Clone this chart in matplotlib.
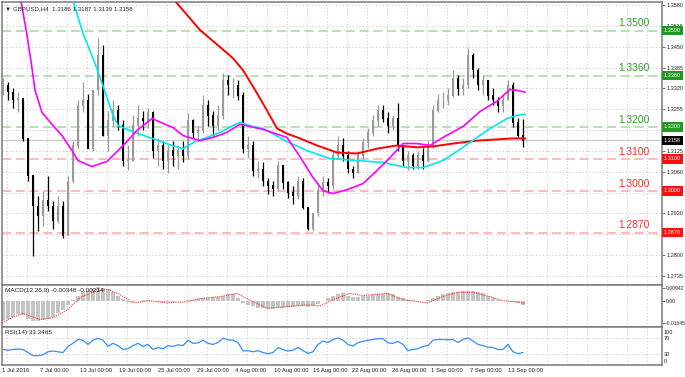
import matplotlib
matplotlib.use("Agg")
import matplotlib.pyplot as plt

# ---------------- data ----------------
symbol_text = "\u25bc GBPUSD,H4  1.3186 1.3187 1.3139 1.3158"
macd_text = "MACD(12,26,9) -0.00348 -0.00214"
rsi_text = "RSI(14) 33.3465"

highs = [1.3351, 1.3339, 1.3320, 1.3308, 1.3283, 1.3164, 1.3048, 1.2985, 1.3001, 1.3048,
         1.2970, 1.2985, 1.2970, 1.3048, 1.3157, 1.3283, 1.3339, 1.3302, 1.3314, 1.3477,
         1.3455, 1.3251, 1.3283, 1.3267, 1.3220, 1.3142, 1.3236, 1.3267, 1.3251, 1.3258,
         1.3251, 1.3164, 1.3157, 1.3142, 1.3157, 1.3142, 1.3157, 1.3242, 1.3226, 1.3204,
         1.3298, 1.3283, 1.3251, 1.3267, 1.3367, 1.3361, 1.3352, 1.3345, 1.3308, 1.3173,
         1.3157, 1.3095, 1.3089, 1.3039, 1.3032, 1.3095, 1.3079, 1.3032, 1.3017, 1.3048,
         1.3039, 1.2948, 1.2932, 1.3026, 1.3048, 1.3039, 1.3126, 1.3173, 1.3164, 1.3126,
         1.3079, 1.3126, 1.3164, 1.3195, 1.3236, 1.3267, 1.3267, 1.3245, 1.3236, 1.3274,
         1.3142, 1.3126, 1.3120, 1.3126, 1.3133, 1.3157, 1.3267, 1.3304, 1.3308, 1.3320,
         1.3377, 1.3361, 1.3352, 1.3445, 1.3430, 1.3383, 1.3361, 1.3345, 1.3320, 1.3292,
         1.3298, 1.3345, 1.3339, 1.3229, 1.3226]
lows = [1.3298, 1.3283, 1.3258, 1.3245, 1.3157, 1.3032, 1.2798, 1.2876, 1.2891, 1.2938,
        1.2882, 1.2901, 1.2854, 1.2876, 1.3026, 1.3133, 1.3245, 1.3133, 1.3126, 1.3298,
        1.3173, 1.3126, 1.3204, 1.3189, 1.3079, 1.3064, 1.3095, 1.3173, 1.3189, 1.3195,
        1.3104, 1.3079, 1.3069, 1.3057, 1.3079, 1.3069, 1.3089, 1.3101, 1.3164, 1.3157,
        1.3182, 1.3204, 1.3173, 1.3189, 1.3226, 1.3298, 1.3289, 1.3283, 1.3117, 1.3104,
        1.3048, 1.3042, 1.3017, 1.2992, 1.2985, 1.3001, 1.3007, 1.2979, 1.2960, 1.2976,
        1.2945, 1.2879, 1.2876, 1.2923, 1.2985, 1.2995, 1.3007, 1.3101, 1.3095, 1.3057,
        1.3039, 1.3057, 1.3101, 1.3133, 1.3173, 1.3204, 1.3214, 1.3182, 1.3189, 1.3126,
        1.3079, 1.3064, 1.3069, 1.3069, 1.3069, 1.3089, 1.3133, 1.3245, 1.3258, 1.3267,
        1.3292, 1.3298, 1.3298, 1.3320, 1.3352, 1.3314, 1.3298, 1.3283, 1.3267, 1.3245,
        1.3245, 1.3283, 1.3198, 1.3167, 1.3136]
closes = [1.3330, 1.3308, 1.3283, 1.3289, 1.3164, 1.3048, 1.2954, 1.2923, 1.2970, 1.2954,
          1.2907, 1.2954, 1.2860, 1.3032, 1.3142, 1.3267, 1.3283, 1.3133, 1.3314, 1.3423,
          1.3173, 1.3220, 1.3251, 1.3204, 1.3095, 1.3095, 1.3204, 1.3226, 1.3220, 1.3245,
          1.3126, 1.3142, 1.3095, 1.3126, 1.3111, 1.3126, 1.3111, 1.3220, 1.3182, 1.3189,
          1.3267, 1.3236, 1.3204, 1.3236, 1.3345, 1.3330, 1.3330, 1.3298, 1.3133, 1.3142,
          1.3064, 1.3069, 1.3032, 1.3017, 1.3007, 1.3079, 1.3026, 1.2995, 1.2985, 1.3032,
          1.2948, 1.2882, 1.2932, 1.3001, 1.3026, 1.3017, 1.3111, 1.3142, 1.3111, 1.3069,
          1.3057, 1.3111, 1.3151, 1.3182, 1.3220, 1.3251, 1.3226, 1.3204, 1.3226, 1.3142,
          1.3095, 1.3111, 1.3079, 1.3111, 1.3095, 1.3142, 1.3251, 1.3283, 1.3283, 1.3298,
          1.3352, 1.3320, 1.3330, 1.3423, 1.3377, 1.3330, 1.3345, 1.3298, 1.3283, 1.3267,
          1.3283, 1.3330, 1.3214, 1.3173, 1.3158]
first_open = 1.3320

ma_fast_idx = [3.4, 4.8, 5.8, 6.4, 7.8, 10.0, 11.8, 13.8, 15.0, 17.8, 19.4, 20.8, 22.4, 24.4,
               26.8, 29.8, 32.0, 34.0, 36.0, 39.4, 42.0, 44.8, 47.4, 52.0, 56.8, 59.4, 62.0,
               64.0, 66.0, 68.8, 72.0, 74.8, 77.4, 80.0, 82.8, 85.4, 88.0, 92.0, 95.4, 98.8,
               101.4, 102.8, 104.4]
ma_fast = [1.3611, 1.3486, 1.3383, 1.3314, 1.3245, 1.3204, 1.3173, 1.3126, 1.3095, 1.3076,
           1.3085, 1.3092, 1.3117, 1.3148, 1.3189, 1.3226, 1.3211, 1.3198, 1.3173, 1.3157,
           1.3167, 1.3183, 1.3208, 1.3192, 1.3167, 1.3107, 1.3042, 1.3001, 1.2992, 1.3004,
           1.3023, 1.3064, 1.3104, 1.3148, 1.3148, 1.3142, 1.3167, 1.3201, 1.3248, 1.3280,
           1.3317, 1.3314, 1.3308]

ma_mid_idx = [13.6, 16.0, 18.4, 20.8, 21.8, 23.0, 24.4, 27.0, 30.4, 33.8, 36.0, 38.4, 40.8,
              43.4, 46.0, 47.4, 50.0, 52.0, 56.8, 60.8, 65.4, 70.8, 76.0, 80.8, 84.0, 88.0,
              92.0, 96.8, 100.8, 102.8, 104.4]
ma_mid = [1.3614, 1.3492, 1.3398, 1.3292, 1.3245, 1.3204, 1.3195, 1.3179, 1.3161, 1.3142,
          1.3132, 1.3154, 1.3167, 1.3183, 1.3204, 1.3214, 1.3201, 1.3195, 1.3154, 1.3126,
          1.3101, 1.3095, 1.3089, 1.3073, 1.3073, 1.3095, 1.3136, 1.3189, 1.3226, 1.3236,
          1.3239]

ma_slow_idx = [33.4, 39.4, 43.4, 46.0, 48.0, 50.8, 52.8, 54.8, 56.8, 59.4, 62.8, 66.8, 70.8,
               74.8, 78.8, 82.8, 86.0, 90.0, 94.8, 98.8, 102.0, 104.4]
ma_slow = [1.3611, 1.3502, 1.3449, 1.3414, 1.3377, 1.3305, 1.3251, 1.3195, 1.3179, 1.3164,
           1.3142, 1.3120, 1.3117, 1.3132, 1.3142, 1.3136, 1.3139, 1.3148, 1.3157, 1.3161,
           1.3164, 1.3164]

green_levels = [1.3500, 1.3360, 1.3200]
red_levels = [1.3100, 1.3000, 1.2870]
last_price = 1.3158
price_ticks = [1.3580, 1.3515, 1.3450, 1.3385, 1.3320, 1.3255, 1.3125, 1.3060, 1.2930, 1.2800, 1.2735]
grid_prices = [1.3580, 1.3515, 1.3450, 1.3385, 1.3320, 1.3255, 1.3190, 1.3125, 1.3060, 1.2995,
               1.2930, 1.2865, 1.2800, 1.2735]

macd_hist = [-0.0141, -0.0133, -0.0118, -0.0102, -0.0110, -0.0133, -0.0149, -0.0149, -0.0141, -0.0133,
             -0.0118, -0.0094, -0.0071, -0.0031, 0.0008, 0.0039, 0.0063, 0.0071, 0.0086, 0.0102,
             0.0098, 0.0086, 0.0063, 0.0039, 0.0016, -0.0008, -0.0008, -0.0004, 0.0002, 0.0004,
             -0.0004, -0.0008, -0.0008, -0.0008, -0.0008, -0.0004, -0.0001, 0.0008, 0.0008, 0.0016,
             0.0024, 0.0024, 0.0027, 0.0031, 0.0039, 0.0047, 0.0047, 0.0024, -0.0016, -0.0031,
             -0.0039, -0.0051, -0.0055, -0.0059, -0.0063, -0.0055, -0.0051, -0.0047, -0.0043, -0.0039,
             -0.0039, -0.0043, -0.0039, -0.0024, 0.0000, 0.0024, 0.0039, 0.0051, 0.0055, 0.0039,
             0.0031, 0.0031, 0.0035, 0.0039, 0.0043, 0.0047, 0.0051, 0.0055, 0.0047, 0.0031,
             0.0020, 0.0008, 0.0004, -0.0002, -0.0002, 0.0008, 0.0024, 0.0035, 0.0047, 0.0059,
             0.0063, 0.0067, 0.0071, 0.0075, 0.0071, 0.0067, 0.0055, 0.0039, 0.0024, 0.0008,
             -0.0002, -0.0002, -0.0012, -0.0020, -0.0035]
signal_idx = [-0.6, 1.4, 4.0, 7.4, 10.0, 12.8, 15.4, 18.0, 20.8, 23.4, 26.0, 29.4, 32.8, 36.8,
              39.4, 43.4, 46.8, 50.0, 52.8, 56.0, 60.8, 63.4, 66.0, 69.4, 72.0, 76.8, 80.0, 84.8,
              88.0, 90.8, 94.0, 97.4, 100.0, 102.8, 104.4]
signal = [-0.0173, -0.0133, -0.0094, -0.0141, -0.0126, -0.0071, 0.0024, 0.0063, 0.0086, 0.0047,
          -0.0016, 0.0000, -0.0016, -0.0008, 0.0016, 0.0031, 0.0055, -0.0008, -0.0055, -0.0047,
          -0.0031, -0.0039, 0.0008, 0.0055, 0.0039, 0.0055, 0.0008, -0.0016, 0.0031, 0.0063,
          0.0063, 0.0031, 0.0000, -0.0008, -0.0021]
macd_ticks = [0.00942, 0.0, -0.01645]
macd_tick_labels = ["0.00942", "0.00", "-0.01645"]

rsi = [41, 39, 41, 42, 41, 33, 25, 25, 27, 35, 37, 35, 33, 49, 57, 67, 65, 54, 65, 70,
       65, 49, 57, 51, 41, 43, 51, 57, 49, 54, 41, 46, 43, 51, 49, 53, 51, 65, 57, 58,
       65, 57, 54, 59, 70, 66, 65, 59, 37, 38, 35, 38, 33, 30, 33, 46, 41, 37, 39, 46,
       38, 31, 35, 54, 63, 59, 67, 71, 65, 54, 50, 59, 62, 65, 67, 69, 69, 58, 57, 62,
       54, 38, 41, 43, 49, 51, 65, 67, 67, 66, 67, 59, 67, 71, 63, 54, 51, 47, 46, 41,
       41, 54, 35, 30, 33.3]
rsi_ticks = [100, 70, 30, 0]
rsi_label_pos = [87, 70, 30, 11]

date_labels = ["1 Jul 2016", "7 Jul 00:00", "13 Jul 00:00", "19 Jul 00:00", "25 Jul 00:00",
               "29 Jul 00:00", "4 Aug 00:00", "10 Aug 00:00", "16 Aug 00:00", "22 Aug 00:00",
               "26 Aug 00:00", "1 Sep 00:00", "7 Sep 00:00", "13 Sep 00:00"]
date_pos = [-0.2, 7.4, 15.4, 23.2, 31.0, 38.8, 46.4, 54.2, 62.0, 69.8, 77.8, 85.6, 93.4, 101.0]

# ---------------- layout ----------------
W, H = 685, 377
fig = plt.figure(figsize=(W / 100, H / 100), dpi=100)
fig.patch.set_facecolor("white")
plt.rcParams["font.family"] = ["Liberation Sans", "DejaVu Sans"]
SMALL = 4.0


def rect(x0, y0, x1, y1):
    return [x0 / W, 1 - y1 / H, (x1 - x0) / W, (y1 - y0) / H]


ax = fig.add_axes(rect(2, 2, 662, 285))
axm = fig.add_axes(rect(2, 285, 662, 327), sharex=ax)
axr = fig.add_axes(rect(2, 327, 662, 365), sharex=ax)

XMIN, XMAX = -0.2, 131.8
ax.set_xlim(XMIN, XMAX)
ax.set_ylim(1.27068, 1.35894)
axm.set_ylim(-0.01962, 0.01177)
axr.set_ylim(0.7, 99.3)

grid_kw = dict(color="#c8c8c8", lw=0.6, linestyle=(0, (1.5, 2.5)), zorder=0)
vgrid = [0.8 + 4 * k for k in range(33)]
for a in (ax, axm, axr):
    for v in vgrid:
        a.axvline(v, **grid_kw)
    for s in a.spines.values():
        s.set_color("#7a7a7a")
        s.set_linewidth(1.1)
    a.tick_params(axis="x", bottom=False, labelbottom=False)
    a.yaxis.tick_right()
    a.tick_params(axis="y", length=2, width=0.6, color="#555555", pad=1.5,
                  labelsize=SMALL, labelcolor="#222222")
for g in grid_prices:
    ax.axhline(g, **grid_kw)

# price bars
prev = first_open
for i, (h, l, c) in enumerate(zip(highs, lows, closes)):
    o = prev
    col = "#000000" if c < o else "#9a9a9a"
    ax.vlines(i, l, h, color=col, lw=0.9, zorder=3)
    ax.bar(i, abs(c - o) + 0.00012, bottom=min(o, c) - 0.00006, width=0.5,
           color=col, zorder=3, linewidth=0)
    prev = c

# levels
for lv in green_levels:
    ax.axhline(lv, color="#a6d9a0", lw=1.1, linestyle=(0, (6, 3)), zorder=1)
    ax.text(129.4, lv + 0.0007, f"{lv:.4f}", color="#2aa32a", fontsize=7.4,
            ha="right", va="bottom", zorder=6)
for lv in red_levels:
    ax.axhline(lv, color="#ffa8a8", lw=1.1, linestyle=(0, (6, 3)), zorder=1)
    ax.text(129.4, lv + 0.0007, f"{lv:.4f}", color="#ff2a2a", fontsize=7.4,
            ha="right", va="bottom", zorder=6)
ax.axhline(last_price, color="#c8c8c8", lw=0.8, zorder=1)

# moving averages
ax.plot(ma_slow_idx, ma_slow, color="#ff0000", lw=1.4, zorder=4)
ax.plot(ma_mid_idx, ma_mid, color="#00e8f0", lw=1.2, zorder=4)
ax.plot(ma_fast_idx, ma_fast, color="#ff00ff", lw=1.2, zorder=4)

ax.set_yticks(price_ticks)
ax.set_yticklabels([f"{t:.4f}" for t in price_ticks])

# boxed labels on the right axis
ytr = ax.get_yaxis_transform()
box_kw = dict(transform=ytr, color="white", fontsize=SMALL, ha="left", va="center",
              clip_on=False, zorder=10)
for lv in green_levels:
    ax.text(1.003, lv, f"{lv:.4f}", **box_kw,
            bbox=dict(boxstyle="square,pad=0.4", fc="#1e9a1e", ec="none"))
for lv in red_levels:
    ax.text(1.003, lv, f"{lv:.4f}", **box_kw,
            bbox=dict(boxstyle="square,pad=0.4", fc="#ff1010", ec="none"))
ax.text(1.003, last_price, f"{last_price:.4f}", **box_kw,
        bbox=dict(boxstyle="square,pad=0.4", fc="#000000", ec="none"))

ax.text(0.004, 0.985, symbol_text, transform=ax.transAxes, fontsize=4.4, color="#222222",
        ha="left", va="top", zorder=8)

# MACD
axm.bar(range(len(macd_hist)), macd_hist, width=0.75, color="#c4c4c4", zorder=2)
axm.plot(signal_idx, signal, color="#ff3030", lw=0.8, linestyle=(0, (1, 1)), zorder=3)
axm.set_yticks(macd_ticks)
axm.set_yticklabels(macd_tick_labels)
axm.tick_params(axis="y", labelsize=3.6, pad=1.0)
axm.text(0.004, 0.93, macd_text, transform=axm.transAxes, fontsize=4.6, color="#222222",
         ha="left", va="top")

# RSI
axr.axhline(70, **grid_kw)
axr.axhline(30, **grid_kw)
axr.plot(range(len(rsi)), rsi, color="#2f8fff", lw=0.9, zorder=3)
axr.set_yticks(rsi_label_pos)
axr.set_yticklabels([str(t) for t in rsi_ticks])
axr.tick_params(axis="y", length=0)
axr.text(0.004, 0.93, rsi_text, transform=axr.transAxes, fontsize=4.6, color="#222222",
         ha="left", va="top")

# date labels
xtr = axr.get_xaxis_transform()
for p, lab in zip(date_pos, date_labels):
    axr.text(p, -0.08, lab, transform=xtr, fontsize=4.2, color="#222222", ha="left",
             va="top", clip_on=False)

fig.savefig("out.png", dpi=100, facecolor="white")
